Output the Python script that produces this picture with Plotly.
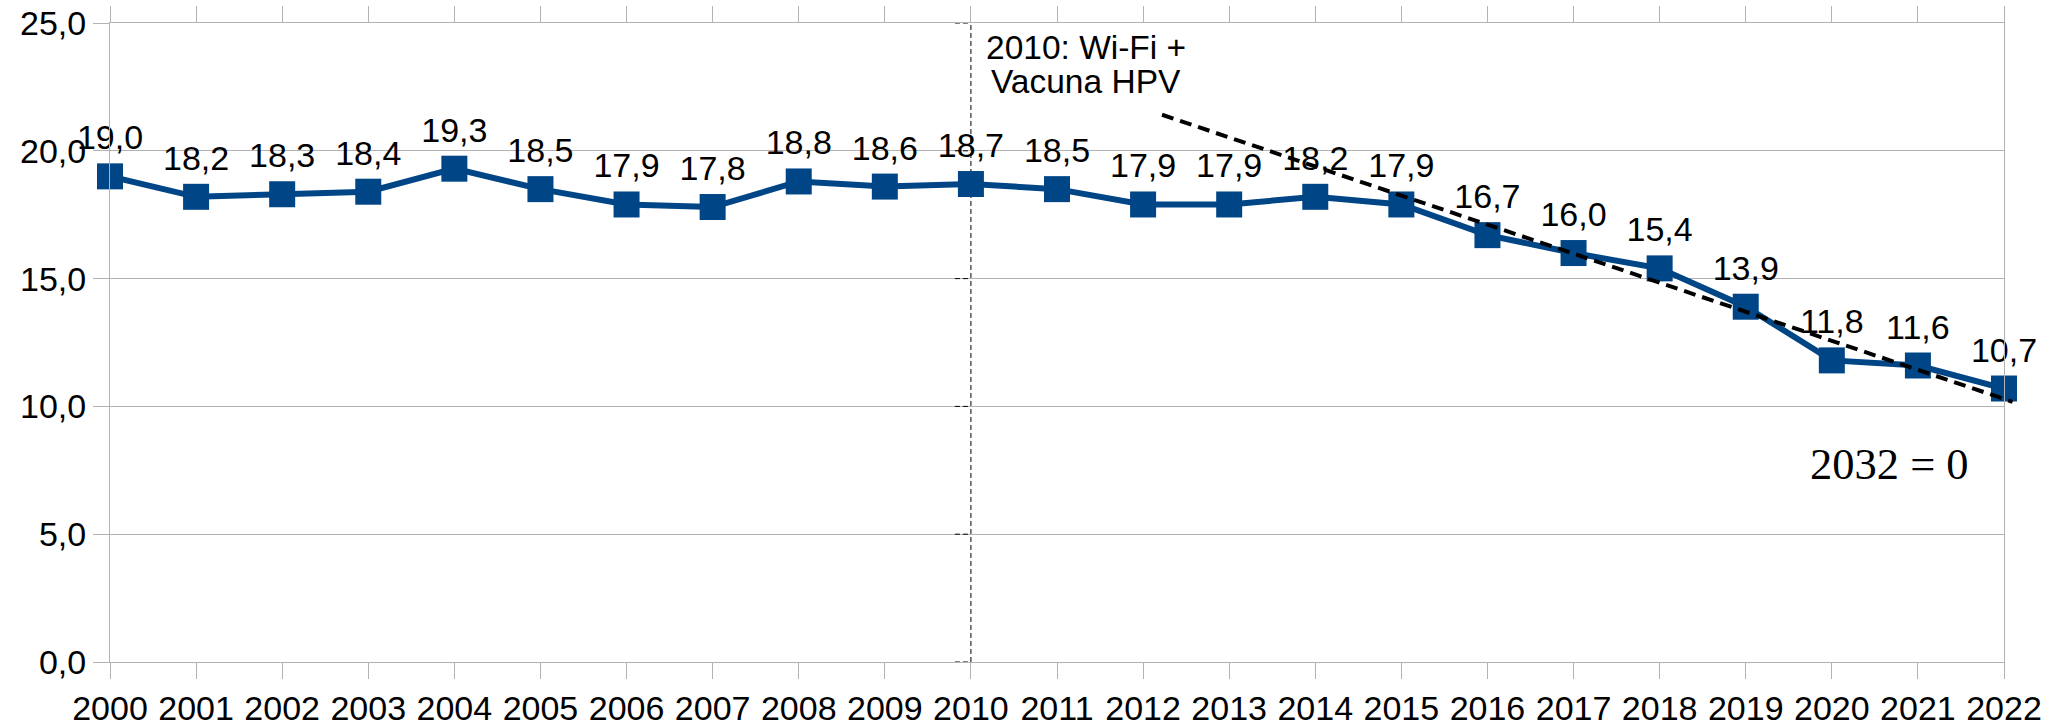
import plotly.graph_objects as go

years = list(range(2000, 2023))
values = [19.0, 18.2, 18.3, 18.4, 19.3, 18.5, 17.9, 17.8, 18.8, 18.6, 18.7, 18.5,
          17.9, 17.9, 18.2, 17.9, 16.7, 16.0, 15.4, 13.9, 11.8, 11.6, 10.7]
labels = [f"{v:.1f}".replace(".", ",") for v in values]
y_ticks = [0, 5, 10, 15, 20, 25]
trend_x = [2012.22, 2022.1]
trend_y = [21.41, 10.18]
event_year = 2010
event_text_1 = "2010: Wi-Fi +"
event_text_2 = "Vacuna HPV"
note_text = "2032 = 0"

BLUE = "#004586"
GRID = "#b3b3b3"
FONT = "Liberation Sans"

# page body margin is removed in post_script, so the figure fills the window
W, H = 2066, 726
ML, MT = 110, 23
PLOT_RIGHT, PLOT_BOTTOM = 2004, 662
MR_EXT = 40
MB = H - PLOT_BOTTOM
plot_w = W - ML - MR_EXT
d = (PLOT_RIGHT - ML) / plot_w  # main x-domain fraction

fig = go.Figure()

fig.add_trace(go.Scatter(
    x=years, y=values, mode="lines+markers",
    line=dict(color=BLUE, width=6),
    marker=dict(symbol="square", size=26, color=BLUE),
    cliponaxis=False, hoverinfo="skip", showlegend=False,
))
fig.add_trace(go.Scatter(
    x=years, y=values, mode="markers+text", text=labels,
    textposition="top center",
    textfont=dict(family=FONT, size=34, color="black"),
    marker=dict(size=28, opacity=0),
    cliponaxis=False, hoverinfo="skip", showlegend=False,
))
fig.add_trace(go.Scatter(
    x=trend_x, y=trend_y, mode="lines", xaxis="x3", yaxis="y3",
    line=dict(color="black", width=4, dash="12px,7px"),
    hoverinfo="skip", showlegend=False,
))

shapes = [dict(type="line", xref="x", yref="y", x0=event_year, x1=event_year,
               y0=y_ticks[0], y1=y_ticks[-1], layer="below",
               line=dict(color="black", width=1, dash="5px,3px"))]
for t in y_ticks:
    shapes.append(dict(type="line", xref="x", yref="y", xsizemode="pixel",
                       xanchor=event_year, x0=-16, x1=0, y0=t, y1=t,
                       line=dict(color="black", width=1, dash="5px,3px")))

annotations = [
    dict(x=event_year, y=y_ticks[-1], xref="x", yref="y", text=event_text_1,
         showarrow=False, xanchor="center", yanchor="top", xshift=115, yshift=-4,
         font=dict(family=FONT, size=33.5, color="black")),
    dict(x=event_year, y=y_ticks[-1], xref="x", yref="y", text=event_text_2,
         showarrow=False, xanchor="center", yanchor="top", xshift=115, yshift=-38,
         font=dict(family=FONT, size=33.5, color="black")),
    dict(x=2020.67, y=7.75, xref="x", yref="y", text=note_text, showarrow=False,
         xanchor="center", yanchor="middle",
         font=dict(family="Liberation Serif", size=44.5, color="black")),
]

fig.update_layout(
    width=W, height=H, autosize=False,
    margin=dict(l=ML, r=MR_EXT, t=MT, b=MB, pad=0, autoexpand=False),
    paper_bgcolor="white", plot_bgcolor="rgba(0,0,0,0)",
    separators=",.",
    font=dict(family=FONT, size=34, color="black"),
    showlegend=False, hovermode=False,
    shapes=shapes, annotations=annotations,
    xaxis=dict(domain=[0, d], range=[years[0], years[-1]], automargin=False,
               tickmode="array", tickvals=years, ticktext=[str(y) for y in years],
               ticks="outside", ticklen=16, tickwidth=1, tickcolor=GRID,
               ticklabeloverflow="allow",
               showline=True, linecolor=GRID, linewidth=1, mirror="ticks",
               showgrid=False, zeroline=False,
               tickfont=dict(family=FONT, size=34, color="black")),
    yaxis=dict(range=[y_ticks[0], y_ticks[-1]], tickmode="array", tickvals=y_ticks,
               automargin=False, ticklabeloverflow="allow",
               tickformat=".1f", ticks="outside", ticklen=16, tickwidth=1,
               tickcolor=GRID, showline=True, linecolor=GRID, linewidth=1,
               mirror=True, showgrid=True, gridcolor=GRID, gridwidth=1,
               zeroline=False,
               tickfont=dict(family=FONT, size=34, color="black")),
    xaxis3=dict(domain=[0, 1], range=[years[0], years[0] + (years[-1] - years[0]) / d],
                anchor="y3", visible=False, automargin=False),
    yaxis3=dict(domain=[0, 1], range=[y_ticks[0], y_ticks[-1]], anchor="x3",
                visible=False, automargin=False),
)

fig.write_html("out.html",
               config={"displayModeBar": False, "staticPlot": True},
               post_script="document.body.style.margin='0px';"
                           "document.body.style.overflow='hidden';")
